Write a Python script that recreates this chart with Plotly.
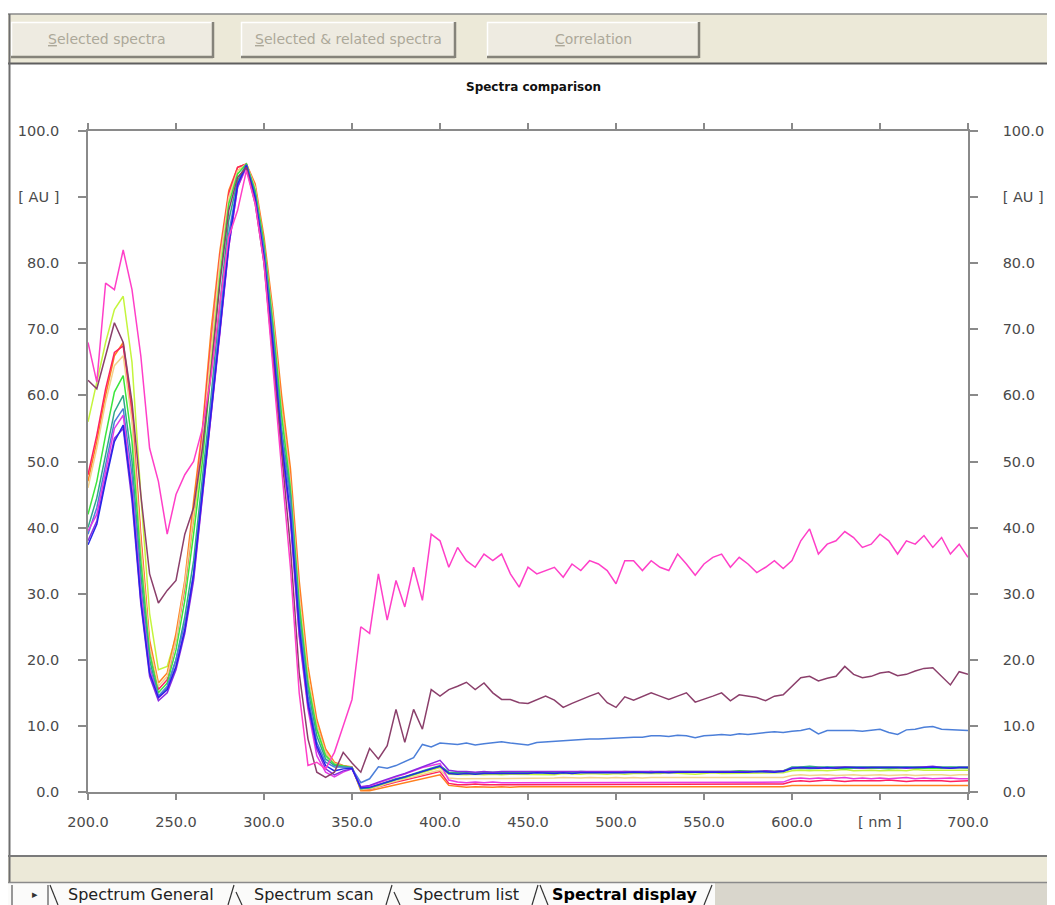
import plotly.graph_objects as go

# page body has an 8px margin; figure sized to fit the 1055x905 viewport exactly
OFF = 8
W, H = 1055 - OFF, 905 - OFF

# ---------------- data ----------------
wavelength = list(range(200, 701, 5))

x_ticks = [200, 250, 300, 350, 400, 450, 500, 550, 600, 650, 700]
x_ticktext = ["200.0", "250.0", "300.0", "350.0", "400.0", "450.0", "500.0", "550.0", "600.0", "[ nm ]", "700.0"]
y_ticks = [0, 10, 20, 30, 40, 50, 60, 70, 80, 90, 100]
y_ticktext = ["0.0", "10.0", "20.0", "30.0", "40.0", "50.0", "60.0", "70.0", "80.0", "[ AU ]", "100.0"]

yellow_green = [56, 62, 68, 73, 75, 65, 45, 27, 18.5, 19,
                23.5, 31, 41, 52, 66, 80, 90, 94, 95, 91,
                83, 71, 58, 46, 29, 17, 9.5, 5.5, 4.2, 3.9,
                3.7, 0.5, 0.6, 1.0, 1.5, 1.9, 2.2, 2.6, 3.0, 3.4,
                3.7, 2.7, 2.6, 2.6, 2.7, 2.6, 2.7, 2.6, 2.7, 2.7,
                2.6, 2.7, 2.7, 2.6, 2.8, 2.7, 2.7, 2.8, 2.7, 2.7,
                2.8, 2.7, 2.8, 2.8, 2.7, 2.8, 2.9, 2.8, 2.8, 2.7,
                2.8, 2.9, 2.8, 2.8, 2.9, 2.8, 2.9, 2.8, 2.9, 2.9,
                3.2, 3.3, 3.2, 3.3, 3.2, 3.3, 3.4, 3.2, 3.3, 3.3,
                3.2, 3.3, 3.3, 3.2, 3.4, 3.3, 3.3, 3.2, 3.3, 3.3,
                3.3]

orange = [47, 53, 60, 66, 68, 58, 39, 23, 16.5, 18,
          24, 32, 44, 55, 70, 82, 91, 94.5, 95, 92,
          84, 73, 60, 49, 32, 19, 11, 6.5, 4.5, 4.0,
          3.8, 0.2, 0.2, 0.5, 0.8, 1.1, 1.3, 1.6, 2.0, 2.3,
          2.6, 1.0, 0.8, 0.7, 0.8, 0.7, 0.7, 0.8, 0.7, 0.8,
          0.8, 0.7, 0.8, 0.8, 0.7, 0.8, 0.8, 0.7, 0.8, 0.8,
          0.8, 0.8, 0.7, 0.8, 0.8, 0.8, 0.7, 0.8, 0.8, 0.8,
          0.8, 0.8, 0.7, 0.8, 0.8, 0.8, 0.8, 0.7, 0.8, 0.8,
          1.0, 1.0, 1.1, 1.0, 1.0, 1.0, 1.1, 1.0, 1.0, 1.0,
          1.0, 1.0, 1.1, 1.0, 1.0, 1.0, 1.0, 1.1, 1.0, 1.0,
          1.0]

red = [48, 54, 61, 66.5, 67.5, 57, 38, 22, 15.5, 17,
       23, 31, 42, 54, 68, 81, 90.5, 94.5, 95, 91.5,
       83, 72, 58, 47, 30, 17, 10, 6, 4.3, 3.9,
       3.7, 0.4, 0.4, 0.8, 1.2, 1.5, 1.8, 2.1, 2.4, 2.8,
       3.1, 1.3, 1.1, 1.1, 1.2, 1.1, 1.1, 1.2, 1.1, 1.1,
       1.2, 1.1, 1.1, 1.2, 1.1, 1.2, 1.1, 1.1, 1.2, 1.1,
       1.2, 1.1, 1.2, 1.1, 1.2, 1.2, 1.1, 1.2, 1.1, 1.2,
       1.2, 1.1, 1.2, 1.2, 1.1, 1.2, 1.2, 1.1, 1.2, 1.2,
       1.6, 1.7, 1.6, 1.7, 1.8, 1.7, 1.6, 1.7, 1.7, 1.6,
       1.7, 1.8, 1.7, 1.6, 1.7, 1.7, 1.8, 1.7, 1.6, 1.7,
       1.7]

pale_yellow = [46, 52, 59, 64.5, 66, 56, 37.5, 22, 16, 17.5,
               23, 31.5, 42, 53, 67, 80.5, 90, 94, 95, 91.5,
               83, 72, 58, 47, 30, 17.5, 10, 6, 4.3, 3.9,
               3.7, 0.4, 0.5, 0.8, 1.3, 1.7, 2.0, 2.3, 2.7, 3.0,
               3.3, 2.1, 2.0, 2.0, 2.1, 2.0, 2.1, 2.0, 2.1, 2.1,
               2.1, 2.0, 2.1, 2.1, 2.2, 2.1, 2.1, 2.2, 2.1, 2.1,
               2.2, 2.1, 2.2, 2.1, 2.2, 2.2, 2.1, 2.2, 2.2, 2.1,
               2.2, 2.2, 2.1, 2.2, 2.2, 2.2, 2.1, 2.2, 2.2, 2.2,
               2.5, 2.6, 2.5, 2.6, 2.6, 2.5, 2.6, 2.6, 2.5, 2.6,
               2.6, 2.5, 2.6, 2.6, 2.5, 2.6, 2.6, 2.6, 2.5, 2.6,
               2.6]

green = [42, 47, 54, 60.5, 63, 53, 35, 21, 15, 16.5,
         21.5, 29, 39, 50, 64, 78, 89, 93.5, 95, 91,
         83, 71, 57, 46, 28.5, 16.5, 9.5, 5.5, 4.2, 3.9,
         3.7, 0.5, 0.6, 1.0, 1.5, 1.9, 2.2, 2.7, 3.1, 3.5,
         3.9, 2.9, 2.8, 2.9, 2.8, 2.9, 2.9, 2.8, 3.0, 2.9,
         2.9, 3.0, 2.9, 3.0, 2.9, 3.0, 3.0, 2.9, 3.0, 3.0,
         3.0, 3.1, 3.0, 3.0, 3.1, 3.0, 3.1, 3.1, 3.0, 3.1,
         3.1, 3.1, 3.0, 3.1, 3.2, 3.1, 3.1, 3.2, 3.1, 3.2,
         3.5, 3.6, 3.5, 3.6, 3.7, 3.6, 3.5, 3.6, 3.6, 3.7,
         3.6, 3.5, 3.6, 3.7, 3.6, 3.6, 3.5, 3.6, 3.7, 3.6,
         3.6]

teal = [40, 44.5, 51, 57.5, 60, 50, 33, 20, 14.5, 15.8,
        20, 26.5, 35, 47, 60, 74, 86.5, 92.5, 95, 90.5,
        82, 70, 55, 45, 27, 15.5, 8.5, 5, 4.0, 3.8,
        3.7, 0.5, 0.7, 1.1, 1.6, 2.0, 2.3, 2.8, 3.2, 3.6,
        4.0, 3.0, 2.9, 3.0, 2.9, 3.0, 3.0, 2.9, 3.0, 3.0,
        3.0, 3.0, 2.9, 3.0, 3.0, 3.0, 3.1, 3.0, 3.0, 3.0,
        3.0, 3.1, 3.0, 3.0, 3.1, 3.0, 3.0, 3.1, 3.0, 3.0,
        3.1, 3.0, 3.0, 3.1, 3.0, 3.0, 3.1, 3.0, 3.1, 3.2,
        3.8, 3.8, 3.9, 3.8, 3.8, 3.9, 3.8, 3.8, 3.9, 3.8,
        3.8, 3.9, 3.8, 3.8, 3.9, 3.8, 3.8, 3.9, 3.8, 3.8,
        3.8]

cornflower = [39, 43, 49.5, 56, 58, 48, 31, 19, 14.5, 16,
              20, 25.5, 33, 46, 59, 72, 84.5, 92, 94.8, 90,
              82, 69, 54, 44, 26, 14.5, 7.5, 4.5, 3.8, 3.8,
              3.6, 1.4, 2.0, 3.8, 3.6, 4.0, 4.6, 5.2, 7.2, 6.8,
              7.4, 7.3, 7.2, 7.4, 7.1, 7.3, 7.5, 7.6, 7.4, 7.2,
              7.1, 7.5, 7.6, 7.7, 7.8, 7.8, 7.9, 8.0, 8.0, 8.1,
              8.2, 8.2, 8.3, 8.3, 8.5, 8.5, 8.4, 8.6, 8.5, 8.2,
              8.5, 8.6, 8.7, 8.6, 8.8, 8.7, 8.9, 9.0, 9.1, 9.0,
              9.2, 9.3, 9.6, 8.8, 9.3, 9.3, 9.4, 9.3, 9.2, 9.4,
              9.5, 9.0, 8.7, 9.4, 9.5, 9.8, 9.9, 9.5, 9.4, 9.3,
              9.3]

magenta = [39.5, 42, 48.5, 55, 57, 46, 30, 18.5, 14.2, 15.5,
           19, 24.5, 32.5, 44.5, 56.5, 69.5, 82.5, 91.5, 94.5, 89.5,
           80.5, 67, 52, 41, 23.5, 12.5, 5.5, 3, 2.3, 3.0,
           3.5, 0.7, 0.9, 1.4, 1.9, 2.3, 2.7, 3.2, 3.7, 4.0,
           4.3, 1.8, 1.5, 1.4, 1.5, 1.4, 1.5, 1.4, 1.4, 1.5,
           1.4, 1.5, 1.4, 1.5, 1.4, 1.4, 1.5, 1.4, 1.5, 1.4,
           1.5, 1.4, 1.5, 1.4, 1.5, 1.5, 1.4, 1.5, 1.4, 1.5,
           1.5, 1.4, 1.5, 1.5, 1.4, 1.5, 1.5, 1.4, 1.5, 1.5,
           2.0, 2.1, 2.0, 2.1, 2.0, 2.1, 2.2, 2.0, 2.1, 2.0,
           2.1, 2.0, 2.1, 2.2, 2.0, 2.1, 2.0, 2.1, 2.1, 2.0,
           2.0]

purple = [38, 41, 47.5, 53.5, 55, 44, 28.5, 17.5, 13.8, 15,
          18.5, 24, 32, 44.5, 56.5, 69.5, 82.5, 91.5, 94.8, 89.5,
          80.5, 67.5, 52.5, 41.5, 24, 13, 6.5, 3.5, 2.6, 3.2,
          3.5, 0.8, 1.0, 1.5, 2.0, 2.4, 2.8, 3.3, 3.8, 4.4,
          4.8, 3.3, 3.1, 3.1, 3.0, 3.1, 3.0, 3.1, 3.1, 3.0,
          3.1, 3.0, 3.1, 3.1, 3.0, 3.1, 3.1, 3.0, 3.1, 3.1,
          3.1, 3.1, 3.0, 3.1, 3.1, 3.1, 3.0, 3.1, 3.1, 3.1,
          3.1, 3.1, 3.1, 3.0, 3.1, 3.1, 3.1, 3.2, 3.1, 3.2,
          3.6, 3.7, 3.6, 3.7, 3.6, 3.7, 3.8, 3.7, 3.6, 3.7,
          3.7, 3.8, 3.7, 3.6, 3.7, 3.7, 3.9, 3.7, 3.6, 3.7,
          3.7]

blue = [37.4, 40.5, 47, 53, 55.5, 45, 29, 18, 14.3, 15.5,
        19, 24.5, 33, 45, 57, 70, 83, 92, 94.8, 90,
        81, 68, 53, 42, 25, 13.5, 7, 4, 3.2, 3.5,
        3.6, 0.6, 0.7, 1.1, 1.6, 2.0, 2.3, 2.8, 3.2, 3.6,
        3.9, 2.8, 2.7, 2.8, 2.7, 2.8, 2.8, 2.7, 2.8, 2.8,
        2.8, 2.9, 2.8, 2.8, 2.9, 2.8, 2.9, 2.9, 2.8, 2.9,
        2.9, 2.9, 3.0, 2.9, 2.9, 3.0, 2.9, 3.0, 3.0, 2.9,
        3.0, 3.0, 2.9, 3.0, 3.0, 3.0, 3.1, 3.0, 3.0, 3.1,
        3.6, 3.7, 3.6, 3.6, 3.7, 3.6, 3.7, 3.7, 3.6, 3.7,
        3.7, 3.6, 3.7, 3.7, 3.6, 3.7, 3.8, 3.7, 3.6, 3.7,
        3.7]

maroon = [62.3, 61, 66, 71, 68, 59, 45, 33, 28.6, 30.5,
          32, 39, 43, 52, 64, 77, 88, 93, 94.5, 89,
          80, 66, 51, 37, 18, 8, 3, 2.2, 3, 6,
          4.4, 3, 6.6, 5, 7, 12.5, 7.5, 12.5, 9.5, 15.5,
          14.5, 15.5, 16, 16.6, 15.5, 16.5, 15, 14, 14, 13.5,
          13.4, 14, 14.5, 13.9, 12.8, 13.4, 14, 14.5, 15, 13.5,
          12.8, 14.4, 13.9, 14.5, 15, 14.5, 14, 14.5, 15, 13.6,
          14, 14.5, 15, 13.8, 14.7, 14.5, 14.3, 13.8, 14.5, 14.7,
          16, 17.3, 17.5, 16.8, 17.2, 17.5, 19, 17.8, 17.3, 17.5,
          18, 18.2, 17.6, 17.8, 18.3, 18.7, 18.8, 17.5, 16.2, 18.2,
          17.8]

hot_pink = [68, 62, 77, 76, 82, 76, 66, 52, 47, 39,
            45, 48, 50, 55, 63, 74, 84, 88, 94, 89,
            80, 64, 49, 34, 15, 4, 4.5, 3.5, 6, 10,
            14, 25, 24, 33, 26, 32, 28, 34, 29, 39,
            38, 34, 37, 35, 34, 36, 35, 36, 33, 31,
            34, 33, 33.5, 34, 32.5, 34.5, 33.5, 35, 34.5, 33.5,
            31.5, 35, 35, 33.5, 35, 34, 33.5, 36, 34.5, 32.8,
            34.5, 35.5, 36, 34, 35.5, 34.5, 33.2, 34, 35, 33.8,
            35, 38, 39.8, 36, 37.5, 38, 39.4, 38.5, 37, 37.5,
            39, 38, 36, 38, 37.5, 38.8, 37, 38.5, 36, 37.5,
            35.5]

series = [
    ("yellow green", yellow_green, "#C4F53C"),
    ("orange", orange, "#FF7F1E"),
    ("red", red, "#FF2060"),
    ("pale yellow", pale_yellow, "#F2D38C"),
    ("green", green, "#3CE63C"),
    ("teal", teal, "#2FA88A"),
    ("cornflower", cornflower, "#4C7FD9"),
    ("magenta", magenta, "#E53BE5"),
    ("purple", purple, "#8A2BE2"),
    ("blue", blue, "#2525E8"),
    ("maroon", maroon, "#8B3F6B"),
    ("hot pink", hot_pink, "#FF3FC8"),
]

# ---------------- figure ----------------
fig = go.Figure()
for name, vals, col in series:
    fig.add_trace(go.Scatter(x=wavelength, y=vals, mode="lines", name=name,
                             line=dict(color=col, width=1.5), showlegend=False))
# invisible trace on right axis so it is drawn
fig.add_trace(go.Scatter(x=[200, 700], y=[0, 100], yaxis="y2", mode="lines",
                         line=dict(width=0), hoverinfo="skip", showlegend=False, opacity=0))


# screen pixel (as in reference) -> paper fraction
def px(x):
    return (x - OFF) / W


def py(y):
    return 1 - (y - OFF) / H


axis_col = "#8a8a8a"
tick_font = dict(family="DejaVu Sans", size=14.5, color="#4a4a4a")

fig.update_layout(
    width=W, height=H,
    margin=dict(l=0, r=0, t=0, b=0, pad=0, autoexpand=False),
    paper_bgcolor="white", plot_bgcolor="white",
    xaxis=dict(domain=[px(88), px(968)], range=[200, 700], tickvals=x_ticks, ticktext=x_ticktext,
               showline=True, linecolor=axis_col, linewidth=1.5, mirror="ticks",
               ticks="outside", ticklen=6, tickwidth=1.5, tickcolor=axis_col, automargin=False,
               showgrid=False, zeroline=False, tickfont=tick_font, ticklabelstandoff=10),
    yaxis=dict(domain=[py(792), py(131)], range=[0, 100], tickvals=y_ticks, ticktext=y_ticktext,
               showline=True, linecolor=axis_col, linewidth=1.5, automargin=False,
               ticks="outside", ticklen=8, tickwidth=1.5, tickcolor=axis_col,
               showgrid=False, zeroline=False, tickfont=tick_font, ticklabelstandoff=16),
    yaxis2=dict(overlaying="y", side="right", range=[0, 100], tickvals=y_ticks, ticktext=y_ticktext,
                showline=True, linecolor=axis_col, linewidth=1.5, automargin=False,
                ticks="outside", ticklen=8, tickwidth=1.5, tickcolor=axis_col,
                showgrid=False, zeroline=False, tickfont=tick_font, ticklabelstandoff=22),
)

shapes = []
annots = []


def rect(x0, y0, x1, y1, fill):
    shapes.append(dict(type="rect", xref="paper", yref="paper",
                       x0=px(x0), x1=px(x1), y0=py(y1), y1=py(y0),
                       fillcolor=fill, line=dict(color=fill, width=0), layer="below"))


def seg(x0, y0, x1, y1, col, lw=1):
    shapes.append(dict(type="line", xref="paper", yref="paper",
                       x0=px(x0), x1=px(x1), y0=py(y0), y1=py(y1),
                       line=dict(color=col, width=lw)))


def text(x, y, s, size=14, color="#000", family="DejaVu Sans", xanchor="center"):
    annots.append(dict(x=px(x), y=py(y), xref="paper", yref="paper", text=s, showarrow=False,
                       xanchor=xanchor, yanchor="middle", borderpad=0,
                       font=dict(family=family, size=size, color=color)))


# toolbar
rect(OFF, 14, 1055, 63, "#ECE9D8")
seg(OFF, 14, 1055, 14, "#8a8a8a", 1.5)
seg(OFF, 63.5, 1055, 63.5, "#5f5f5f", 2)
for (bx0, bx1, label, cx) in [(11, 213, "<u>S</u>elected spectra", 106),
                              (241, 455, "<u>S</u>elected &amp; related spectra", 348),
                              (487, 699, "<u>C</u>orrelation", 593)]:
    rect(bx0, 22, bx1, 57, "#EEEBE1")
    seg(bx0, 22.5, bx1, 22.5, "#ffffff", 1.5)
    seg(bx0 + 0.5, 22, bx0 + 0.5, 57, "#ffffff", 1.5)
    seg(bx0, 57, bx1, 57, "#85837a", 2.5)
    seg(bx1, 22, bx1, 58, "#85837a", 2.5)
    text(cx, 39.5, label, size=14, color="#aca899")

# left window border
seg(9.5, 14, 9.5, 882, "#6e6e6e", 2)

# title
text(533, 87, "<b>Spectra comparison</b>", size=12, color="#111")

# bottom area
rect(OFF, 856, 1055, 905, "#ECE9D8")
seg(OFF, 856, 1055, 856, "#7a7a7a", 2)
rect(OFF, 883, 715, 905, "#FBFBFA")
rect(715, 883, 1055, 905, "#D9D6CC")
seg(OFF, 882.5, 1055, 882.5, "#8a8a8a", 1.5)
seg(12, 885, 12, 905, "#555", 1.2)
seg(48, 885, 48, 905, "#555", 1.2)
text(35, 894, "▸", size=11, color="#333")
# tab separators
seg(50, 885, 58, 905, "#333", 1.2)
seg(234, 885, 228, 905, "#333", 1.2)
seg(236, 892, 242, 905, "#333", 1.2)
seg(392, 885, 386, 905, "#333", 1.2)
seg(394, 892, 400, 905, "#333", 1.2)
seg(538, 885, 532, 905, "#333", 1.2)
seg(540, 885, 548, 905, "#333", 1.2)
seg(712, 885, 704, 905, "#333", 1.2)
text(67, 894, "Spectrum General", size=16, color="#222", xanchor="left")
text(253, 894, "Spectrum scan", size=16, color="#222", xanchor="left")
text(412, 894, "Spectrum list", size=16, color="#222", xanchor="left")
text(551, 894, "<b>Spectral display</b>", size=16, color="#000", xanchor="left")

fig.update_layout(shapes=shapes, annotations=annots)
fig.write_html("out.html")
